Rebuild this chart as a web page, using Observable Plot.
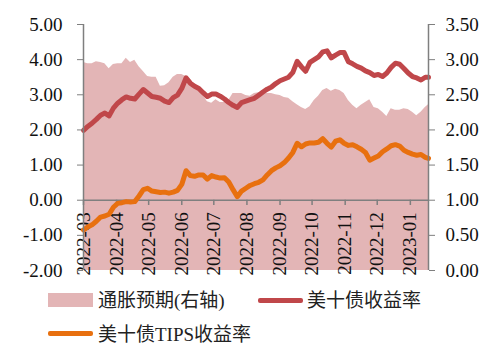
<!DOCTYPE html>
<html><head><meta charset="utf-8">
<script src="https://cdn.jsdelivr.net/npm/d3@7"></script>
<script src="https://cdn.jsdelivr.net/npm/@observablehq/plot@0.6"></script>
<style>
body{margin:0;background:#fff;font-family:"Liberation Serif","Noto Sans CJK SC",serif;}
#wrap{position:relative;width:500px;height:358px;overflow:hidden;}
.leg{position:absolute;font-size:19px;line-height:19px;color:#222;white-space:nowrap;}
.sw{position:absolute;}
</style></head><body><div id="wrap"><div id="chart"></div></div>
<script>
const dates = [
"2022-03-01","2022-03-05","2022-03-09","2022-03-13","2022-03-17","2022-03-21","2022-03-25","2022-03-29",
"2022-04-02","2022-04-06","2022-04-10","2022-04-14","2022-04-18","2022-04-22","2022-04-26","2022-04-30",
"2022-05-04","2022-05-08","2022-05-12","2022-05-16","2022-05-20","2022-05-24","2022-05-28",
"2022-06-01","2022-06-05","2022-06-09","2022-06-13","2022-06-17","2022-06-21","2022-06-25","2022-06-29",
"2022-07-03","2022-07-07","2022-07-11","2022-07-15","2022-07-19","2022-07-23","2022-07-27","2022-07-31",
"2022-08-04","2022-08-08","2022-08-12","2022-08-16","2022-08-20","2022-08-24","2022-08-28",
"2022-09-01","2022-09-05","2022-09-09","2022-09-13","2022-09-17","2022-09-21","2022-09-25","2022-09-29",
"2022-10-03","2022-10-07","2022-10-11","2022-10-15","2022-10-19","2022-10-23","2022-10-27","2022-10-31",
"2022-11-04","2022-11-08","2022-11-12","2022-11-16","2022-11-20","2022-11-24","2022-11-28",
"2022-12-02","2022-12-06","2022-12-10","2022-12-14","2022-12-18","2022-12-22","2022-12-26","2022-12-30",
"2023-01-03","2023-01-07","2023-01-11","2023-01-15","2023-01-18"];

// 通胀预期 (right axis)
const inflation = [
2.96,2.94,2.94,2.97,2.96,2.94,2.87,2.93,
2.94,2.94,3.02,2.96,2.99,2.90,2.83,2.76,
2.75,2.75,2.62,2.63,2.67,2.75,2.79,
2.79,2.76,2.72,2.63,2.57,2.49,2.40,2.38,
2.43,2.39,2.39,2.42,2.52,2.52,2.52,2.49,
2.48,2.52,2.53,2.53,2.52,2.52,2.50,
2.49,2.46,2.45,2.40,2.36,2.32,2.29,2.33,
2.42,2.48,2.56,2.59,2.55,2.58,2.56,2.52,
2.42,2.35,2.30,2.35,2.39,2.43,2.32,
2.30,2.25,2.19,2.30,2.28,2.28,2.30,2.29,
2.25,2.20,2.25,2.32,2.36];

// 美十债收益率 (left axis)
const ust10y = [
1.99,2.10,2.19,2.30,2.42,2.48,2.40,2.62,
2.76,2.86,2.94,2.90,2.88,3.02,3.15,3.05,
2.95,2.93,2.90,2.82,2.78,2.92,2.99,
3.18,3.48,3.33,3.24,3.18,3.06,2.95,3.02,
3.02,2.96,2.88,2.78,2.70,2.64,2.78,2.82,
2.86,2.90,2.99,3.08,3.16,3.22,3.32,
3.40,3.45,3.50,3.64,3.95,3.80,3.67,3.92,
4.00,4.08,4.22,4.25,4.05,4.13,4.20,4.20,
3.94,3.88,3.81,3.76,3.68,3.63,3.55,
3.58,3.52,3.62,3.78,3.90,3.87,3.75,3.62,
3.52,3.48,3.42,3.50,3.50];

// 美十债TIPS收益率 (left axis)
const tips10y = [
-0.85,-0.76,-0.70,-0.60,-0.48,-0.45,-0.40,-0.20,
-0.09,-0.07,-0.04,-0.05,-0.04,0.12,0.30,0.34,
0.26,0.24,0.22,0.23,0.20,0.23,0.28,
0.45,0.84,0.70,0.68,0.72,0.72,0.60,0.70,
0.66,0.63,0.64,0.52,0.30,0.10,0.26,0.34,
0.42,0.47,0.51,0.58,0.72,0.84,0.92,
0.98,1.07,1.20,1.36,1.62,1.52,1.60,1.63,
1.63,1.65,1.75,1.62,1.51,1.68,1.72,1.62,
1.56,1.58,1.52,1.45,1.36,1.14,1.20,
1.26,1.38,1.46,1.55,1.58,1.54,1.42,1.36,
1.31,1.28,1.30,1.22,1.19];

const monthTicks = ["2022-03-01","2022-04-01","2022-05-01","2022-06-01","2022-07-01","2022-08-01",
"2022-09-01","2022-10-01","2022-11-01","2022-12-01","2023-01-01"];
const leftTicks = [-2,-1,0,1,2,3,4,5];
const rightTicks = [0,0.5,1,1.5,2,2.5,3,3.5];
const seriesNames = ["通胀预期(右轴)","美十债收益率","美十债TIPS收益率"];
const colors = ["#e3b5b6","#c0474a","#e8700f"];

const parse = d3.utcParse("%Y-%m-%d");
const fmtMonth = d3.utcFormat("%Y-%m");
const rows = dates.map((d,i)=>({date:parse(d), infl:inflation[i], ust:ust10y[i], tips:tips10y[i]}));
const months = monthTicks.map(parse);
const x0 = rows[0].date, x1 = rows[rows.length-1].date;
const toLeft = r => 2*r - 2;
const axisGray = "#7f7f7f";
const font = "'Liberation Serif','Noto Sans CJK SC',serif";

const chart = Plot.plot({
  width:500, height:280,
  marginTop:24, marginBottom:10, marginLeft:83, marginRight:72,
  style:{fontFamily:font, fontSize:"19px", color:"#111", background:"transparent"},
  x:{type:"utc", domain:[x0,x1], axis:null},
  y:{domain:[-2,5], axis:null},
  marks:[
    Plot.areaY(rows,{x:"date", y1:-2, y2:d=>toLeft(d.infl), fill:colors[0]}),
    Plot.ruleY([0],{stroke:axisGray, strokeWidth:1.5}),
    Plot.ruleX(months,{x:d=>d, y1:0, y2:-0.15, stroke:axisGray, strokeWidth:1.5}),
    Plot.text(months,{x:d=>d, y:0, text:d=>fmtMonth(d), rotate:-90, textAnchor:"end", dy:12, fontSize:19, fill:"#111"}),
    Plot.line(rows,{x:"date", y:"ust", stroke:colors[1], strokeWidth:5, strokeLinejoin:"round"}),
    Plot.line(rows,{x:"date", y:"tips", stroke:colors[2], strokeWidth:5, strokeLinejoin:"round"}),
    Plot.ruleX([x0],{stroke:axisGray, strokeWidth:1.5}),
    Plot.ruleX([x1],{stroke:axisGray, strokeWidth:1.5}),
    Plot.axisY(leftTicks,{anchor:"left", tickSize:6, tickPadding:15, tickFormat:d=>d.toFixed(2), stroke:axisGray, fill:"#111", fontSize:19}),
    Plot.axisY(rightTicks.map(toLeft),{anchor:"right", tickSize:6, tickPadding:11, tickFormat:d=>((d+2)/2).toFixed(2), stroke:axisGray, fill:"#111", fontSize:19})
  ]
});
const wrap = document.getElementById("wrap");
document.getElementById("chart").appendChild(chart);

function add(el){ wrap.appendChild(el); return el; }
function box(cls, css){ const e=document.createElement("div"); e.className=cls; Object.assign(e.style, css); return add(e); }
box("sw",{left:"48px",top:"293px",width:"45px",height:"14px",background:colors[0]});
box("leg",{left:"98px",top:"291px"}).textContent = seriesNames[0];
box("sw",{left:"258px",top:"298px",width:"45px",height:"5px",background:colors[1],borderRadius:"2px"});
box("leg",{left:"307px",top:"291px"}).textContent = seriesNames[1];
box("sw",{left:"48px",top:"331px",width:"45px",height:"5px",background:colors[2],borderRadius:"2px"});
box("leg",{left:"98px",top:"325px"}).textContent = seriesNames[2];
</script></body></html>
